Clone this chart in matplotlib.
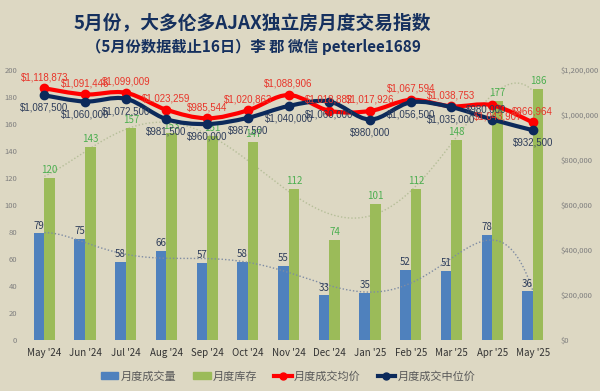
import matplotlib as mp
import matplotlib.pyplot as plt
from matplotlib.path import Path
from matplotlib.patches import PathPatch, Patch
from matplotlib.lines import Line2D
import matplotlib.ticker as mticker
import numpy as np

plt.rcParams['font.family'] = ['Noto Sans CJK SC', 'DejaVu Sans']

# data
months = ["May '24", "Jun '24", "Jul '24", "Aug '24", "Sep '24", "Oct '24", "Nov '24",
          "Dec '24", "Jan '25", "Feb '25", "Mar '25", "Apr '25", "May '25"]
volume = [79, 75, 58, 66, 57, 58, 55, 33, 35, 52, 51, 78, 36]
inventory = [120, 143, 157, 153, 151, 147, 112, 74, 101, 112, 148, 177, 186]
avg_price = [1118873, 1091446, 1099009, 1023259, 985544, 1020863, 1088906,
             1018882, 1017926, 1067594, 1038753, 1043907, 966964]
median_price = [1087500, 1060000, 1072500, 981500, 960000, 987500, 1040000,
                1060000, 980000, 1056500, 1035000, 980000, 932500]

BG = '#DDD8C3'
BLUE = '#4F81BD'
GREEN = '#9BBB59'
RED = '#FF0000'
NAVY = '#0C2A5B'


def smooth_path(xs, ys):
    '''excel style smoothed line as bezier segments'''
    pts = np.column_stack([xs, ys]).astype(float)
    verts = [pts[0]]
    codes = [Path.MOVETO]
    n = len(pts)
    for i in range(n - 1):
        p0 = pts[max(i - 1, 0)]
        p1 = pts[i]
        p2 = pts[i + 1]
        p3 = pts[min(i + 2, n - 1)]
        c1 = p1 + (p2 - p0) / 6
        c2 = p2 - (p3 - p1) / 6
        verts += [c1, c2, p2]
        codes += [Path.CURVE4] * 3
    return Path(verts, codes)


fig = plt.figure(figsize=(6, 3.91), dpi=100, facecolor=BG)
ax = fig.add_axes([0.04, 0.1304, 0.882, 0.6905])
ax.set_facecolor(BG)
ax2 = ax.twinx()

x = np.arange(len(months))
w = 0.26
ax.bar(x - w / 2, volume, w, color=BLUE, zorder=2)
ax.bar(x + w / 2, inventory, w, color=GREEN, zorder=2)

for xi, v in zip(x, volume):
    ax.annotate(str(v), (xi - w / 2, v), xytext=(0, 2), textcoords='offset points',
                ha='center', va='bottom', fontsize=7, color='#2E3D5A', zorder=3)
for xi, v in zip(x, inventory):
    ax.annotate(str(v), (xi + w / 2, v), xytext=(0, 2), textcoords='offset points',
                ha='center', va='bottom', fontsize=7, color='#4CAF50', zorder=3)

# polynomial trendlines
xf = np.linspace(0, len(months) - 1, 300)
tr_inv = np.polyval(np.polyfit(x, inventory, 6), xf)
tr_vol = np.polyval(np.polyfit(x, volume, 6), xf)
ax.plot(xf, tr_inv, color='#B5BE98', lw=1, ls=(0, (1, 1.5)), zorder=1.5)
ax.plot(xf, tr_vol, color='#7F8CA3', lw=1, ls=(0, (1, 1.5)), zorder=2.5)

ax.set_xlim(-0.5, len(months) - 0.5)
ax.set_ylim(0, 200)
ax.set_yticks(range(0, 201, 20))
ax.set_xticks(x)
ax.set_xticklabels(months, fontsize=7, color='#333333')
ax.tick_params(axis='x', length=0, pad=6)
ax.tick_params(axis='y', length=0, labelsize=5.5, labelcolor='#7F7F7F', pad=5)

# price lines
ax2.add_patch(PathPatch(smooth_path(x, avg_price), fill=False, edgecolor=RED, lw=3, zorder=3))
ax2.plot(x, avg_price, ls='none', marker='o', ms=6, color=RED, zorder=3)
ax2.add_patch(PathPatch(smooth_path(x, median_price), fill=False, edgecolor=NAVY, lw=3, zorder=4))
ax2.plot(x, median_price, ls='none', marker='o', ms=6, color=NAVY, zorder=4)

red_off = [8] * len(months)
navy_off = [-9] * len(months)
red_off[11] = -8
navy_off[11] = 7
for i, (a, m) in enumerate(zip(avg_price, median_price)):
    dx = 4 if i == 11 else 0
    ax2.annotate(f'${a:,}', (x[i], a), xytext=(dx, red_off[i]), textcoords='offset points',
                 ha='center', va='center', fontsize=7, color='#E8352A',
                 family=['Liberation Sans', 'DejaVu Sans'], zorder=5)
    ax2.annotate(f'${m:,}', (x[i], m), xytext=(-dx, navy_off[i]), textcoords='offset points',
                 ha='center', va='center', fontsize=7, color='#2E3D5A',
                 family=['Liberation Sans', 'DejaVu Sans'], zorder=5)

ax2.set_ylim(0, 1200000)
ax2.set_yticks(range(0, 1200001, 200000))
ax2.yaxis.set_major_formatter(mticker.FuncFormatter(lambda v, p: f'${int(v):,}'))
ax2.tick_params(axis='y', length=0, labelsize=5.5, labelcolor='#7F7F7F', pad=5)

for a in (ax, ax2):
    for s in a.spines.values():
        s.set_visible(False)

fig.text(0.42, 0.943, '5月份，大多伦多AJAX独立房月度交易指数', ha='center', va='center',
         fontsize=13.5, fontweight='bold', color='#15305E')
fig.text(0.423, 0.88, '（5月份数据截止16日）李 郡 微信 peterlee1689', ha='center', va='center',
         fontsize=11, fontweight='bold', color='#15305E')

handles = [Patch(color=BLUE), Patch(color=GREEN),
           Line2D([], [], color=RED, lw=3, marker='o', ms=5),
           Line2D([], [], color=NAVY, lw=3, marker='o', ms=5)]
labels = ['月度成交量', '月度库存', '月度成交均价', '月度成交中位价']
fig.legend(handles, labels, loc='center', bbox_to_anchor=(0.48, 0.038), ncol=4,
           frameon=False, fontsize=8, labelcolor='#595959', handlelength=1.6,
           handletextpad=0.2, columnspacing=1.5)

fig.savefig('out.png', dpi=100, facecolor=BG)
